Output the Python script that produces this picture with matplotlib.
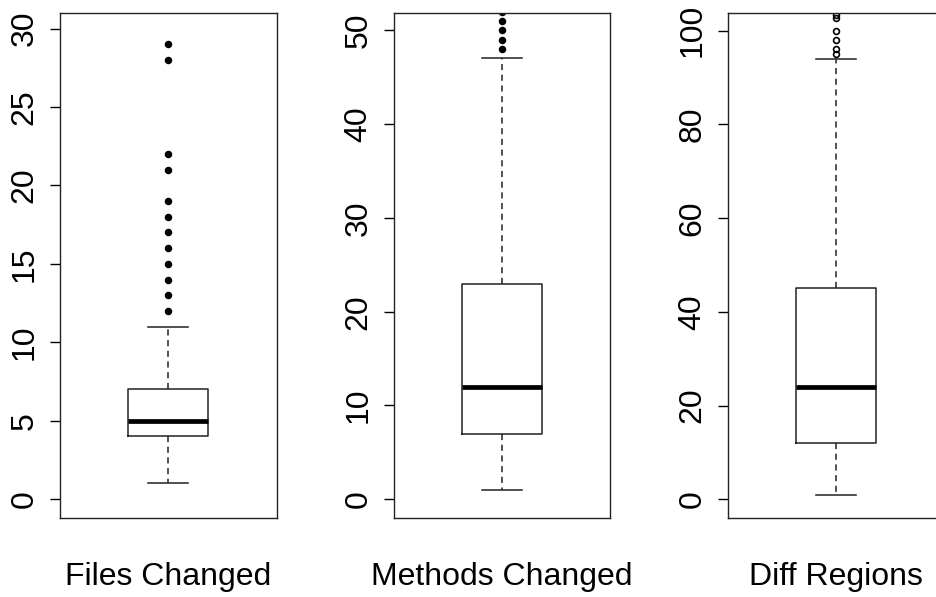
import matplotlib as mpl
mpl.use('Agg')
import matplotlib.pyplot as plt

#matplotlibparameters
mpl.rcParams['font.family'] = ['Liberation Sans', 'DejaVu Sans']
mpl.rcParams['ytick.labelsize'] = 23
mpl.rcParams['axes.linewidth'] = 1.0

# data
labels = ['Files Changed', 'Methods Changed', 'Diff Regions']
medians = [5, 12, 24]
q1s = [4, 7, 12]
q3s = [7, 23, 45]
whis_lo = [1, 1, 1]
whis_hi = [11, 47, 94]
files_outliers = [12, 13, 14, 15, 16, 17, 18, 19, 21, 22, 28, 29]
methods_outliers = [48, 49, 50, 51, 52]
regions_outliers = [95, 96, 98, 100, 102.6, 103.3]
fliers = [files_outliers, methods_outliers, regions_outliers]
yticks = [[0, 5, 10, 15, 20, 25, 30],
          [0, 10, 20, 30, 40, 50],
          [0, 20, 40, 60, 80, 100]]
ylims = [(-1.23, 31.0), (-2.03, 51.85), (-4.06, 103.75)]


def boxes():
    W, H = 936, 597
    fig = plt.figure(figsize=(W/100, H/100), dpi=100)
    lefts = [60, 393.5, 727.5]
    width = 216.7
    top, bottom = 13, 518.3

    for i in range(3):
        ax = fig.add_axes([lefts[i]/W, (H-bottom)/H, width/W, (bottom-top)/H])
        stats = [dict(med=medians[i], q1=q1s[i], q3=q3s[i],
                      whislo=whis_lo[i], whishi=whis_hi[i], fliers=fliers[i])]
        filled = 'k' if i < 2 else 'none'
        ax.bxp(stats, positions=[1], widths=[0.4], capwidths=[0.2],
               boxprops=dict(color='#222222', linewidth=1.1),
               medianprops=dict(color='k', linewidth=3.4, solid_capstyle='butt'),
               whiskerprops=dict(color='#222222', linewidth=1.1, linestyle=(0, (4, 3))),
               capprops=dict(color='#222222', linewidth=1.1),
               flierprops=dict(marker='o', markersize=4.2, markerfacecolor=filled,
                               markeredgecolor='k', markeredgewidth=1.2))
        ax.set_xlim(0.46, 1.54)
        ax.set_ylim(*ylims[i])
        ax.set_yticks(yticks[i])
        ax.set_xticks([])
        ax.tick_params(axis='y', labelrotation=90, length=7.5, width=1.0, pad=7)
        for lab in ax.get_yticklabels():
            lab.set_va('center')
        for s in ax.spines.values():
            s.set_color('#222222')
        fig.text((lefts[i] + width/2)/W, 1 - 577/H, labels[i],
                 ha='center', va='center', fontsize=23)

    fig.savefig('out.png', dpi=100)
    plt.close(fig)


if __name__ == "__main__":
    boxes()
